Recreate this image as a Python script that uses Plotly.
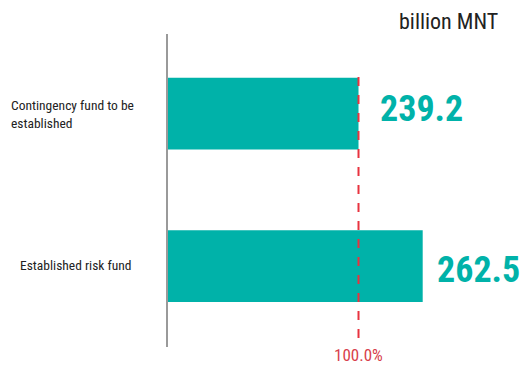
import plotly.graph_objects as go

categories = ["Established risk fund", "Contingency fund to be<br>established"]
values = [262.5, 239.2]
value_labels = ["262.5", "239.2"]
reference_value = 239.2
reference_label = "100.0%"
unit_label = "billion MNT"

TEAL = "#00B2A9"
RED = "#E8333F"
FONT = "Roboto Condensed, DejaVu Sans Condensed, sans-serif"

# page body has an 8px margin; size the figure so it fits the window
OFF = 8
W, H = 529 - OFF, 366 - OFF
L, R, T, B = 160, 0, 26, 19
pw = W - L - R
ph = H - T - B

def wx(px):  # window pixel x -> paper x
    return (px - OFF - L) / pw

def wy(py):  # window pixel y -> paper y
    return (OFF + T + ph - py) / ph

fig = go.Figure()
fig.add_trace(go.Bar(
    y=[0, 1], x=values, orientation="h",
    marker=dict(color=TEAL, line=dict(width=0)),
    width=0.47, hoverinfo="skip",
))

# value labels
xshifts = [12, 19]
yshifts = [-4, 5]
for i, (v, lab) in enumerate(zip(values, value_labels)):
    fig.add_annotation(x=v, y=i, xref="x", yref="y", text=f"<b>{lab}</b>",
                       showarrow=False, xanchor="left", yanchor="middle",
                       xshift=xshifts[i], yshift=yshifts[i],
                       font=dict(family=FONT, size=36, color=TEAL))

# category labels
fig.add_annotation(x=wx(9), y=1, xref="paper", yref="y",
                   text=categories[1], showarrow=False, xanchor="left", align="left",
                   yanchor="middle", font=dict(family=FONT, size=13.5, color="#222222"))
fig.add_annotation(x=wx(18), y=0, xref="paper", yref="y",
                   text=categories[0], showarrow=False, xanchor="left", align="left",
                   yanchor="middle", yshift=1, font=dict(family=FONT, size=13.5, color="#222222"))

# reference dashed line
fig.add_shape(type="line", x0=reference_value, x1=reference_value, xref="x",
              y0=wy(338), y1=wy(71), yref="paper",
              line=dict(color=RED, width=2, dash="9px,9px"))
fig.add_annotation(x=reference_value, y=wy(355), xref="x", yref="paper",
                   text=reference_label, showarrow=False, xanchor="center", yanchor="middle",
                   font=dict(family=FONT, size=17, color="#D8404C"))

fig.add_annotation(x=wx(500), y=wy(21), xref="paper", yref="paper",
                   text=unit_label, showarrow=False, xanchor="right", yanchor="middle",
                   font=dict(family=FONT, size=22, color="#222222"))

fig.update_layout(
    width=W, height=H,
    margin=dict(l=L, r=R, t=T, b=B, pad=0),
    plot_bgcolor="white", paper_bgcolor="white",
    showlegend=False,
    xaxis=dict(range=[170.05, 170.05 + pw / 2.755], visible=False, fixedrange=True),
    yaxis=dict(range=[-0.53, 1.522], showticklabels=False, showgrid=False,
               zeroline=False, showline=True, linecolor="#9A9A9A", linewidth=2,
               ticks="", fixedrange=True),
)

fig.write_html("out.html")
